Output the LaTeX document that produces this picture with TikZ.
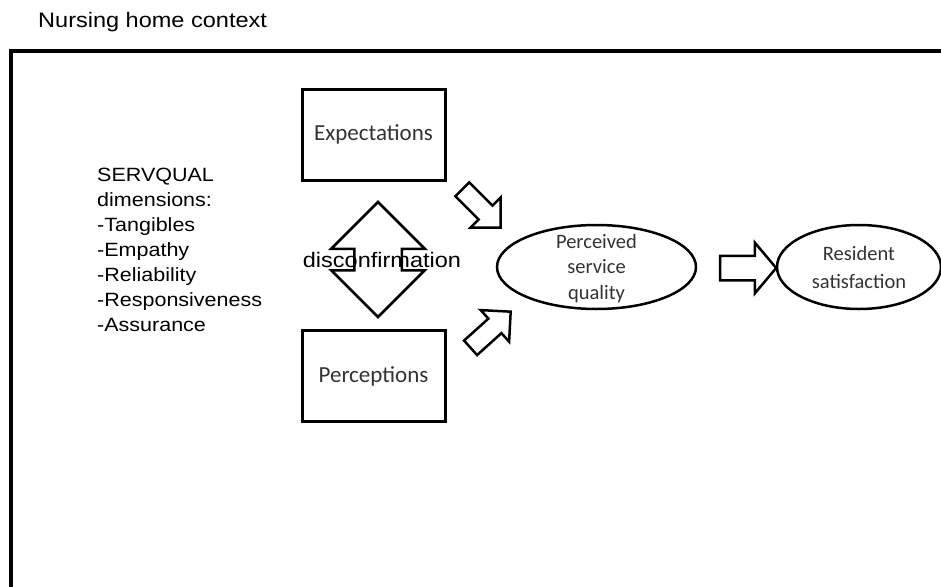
\documentclass[tikz,border=0pt]{standalone}
\usepackage{fontspec}
\usepackage{tikz}
\usetikzlibrary{shapes.geometric, shapes.arrows}

\newfontfamily\arialfont[FakeStretch=1.12, Ligatures=NoCommon]{Liberation Sans}
\newfontfamily\calibrifont{Carlito}

\begin{document}
\begin{tikzpicture}[x=1pt, y=-1pt,
    conceptbox/.style={draw, line width=3pt, minimum width=143pt, minimum height=91pt,
        inner sep=0pt, text=black!80, font=\calibrifont\fontsize{23}{26}\selectfont},
    conceptoval/.style={draw, ellipse, line width=2.5pt, inner sep=0pt, minimum height=84pt},
    ovaltext/.style={align=center, inner sep=0pt, text=black!80,
        font=\calibrifont\fontsize{20.5}{25.5}\selectfont},
    blockarrow/.style={draw, single arrow, line width=2.5pt, inner xsep=0pt, inner ysep=8.5pt,
        minimum height=54pt, single arrow head extend=11.5pt},
    plaintext/.style={inner sep=0pt, font=\arialfont\fontsize{21}{24}\selectfont},
]

    % --- Page size ---
    \def\PicW{941}
    \def\PicH{586}
    \useasboundingbox (0,0) rectangle (\PicW,\PicH);
    \clip (0,0) rectangle (\PicW,\PicH);

    % --- Context frame (runs off the page on the right and bottom) ---
    \node[plaintext, anchor=base west] (context) at (38,28) {Nursing home context};
    \draw[line width=3.5pt] (11,51) rectangle (970,600);

    % --- SERVQUAL list ---
    \node[plaintext, anchor=north west, align=left,
          font=\arialfont\fontsize{19.2}{25}\selectfont] (servqual) at (97,168)
        {SERVQUAL\\dimensions:\\-Tangibles\\-Empathy\\-Reliability\\-Responsiveness\\-Assurance};

    % --- Expectations and perceptions ---
    \node[conceptbox] (expect) at (373.5,134.5) {Expectations};
    \node[conceptbox] (percept) at (373.5,376) {Perceptions};

    % --- Disconfirmation (up-down block arrow, text on top) ---
    \node[draw, double arrow, rotate=90, line width=2.5pt, inner xsep=0pt, inner ysep=22.5pt,
          minimum height=115pt, double arrow head extend=23pt] (gap) at (378,259.5) {};
    \node[plaintext, anchor=base] (disc) at (382,267) {disconfirmation};

    % --- Ovals ---
    \node[conceptoval, minimum width=199pt] (quality) at (596.5,267) {};
    \node[ovaltext] (qualitytext) at ([yshift=-1.5pt]quality) {Perceived\\service\\quality};

    \node[conceptoval, minimum width=164pt] (satis) at (859,267) {};
    \node[ovaltext, font=\calibrifont\fontsize{20.5}{28}\selectfont] (satistext) at (satis)
        {Resident\\satisfaction};

    % --- Block arrows ---
    \node[blockarrow, rotate=-45] (expectarrow) at (478,205) {};
    \node[blockarrow, rotate=42] (perceptarrow) at (487,333) {};
    \node[blockarrow, minimum height=56pt, inner ysep=11pt,
          single arrow head extend=13pt, single arrow tip angle=100] (satisarrow) at (743,268) {};

\end{tikzpicture}
\end{document}
